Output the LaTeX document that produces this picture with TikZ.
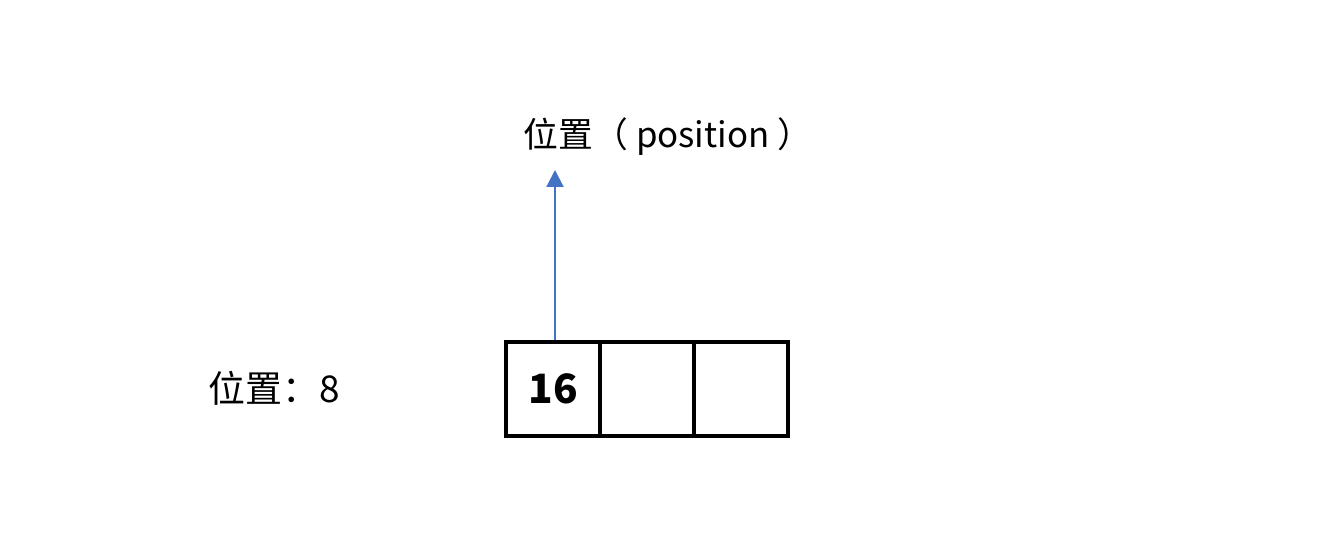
\documentclass[tikz,border=0pt]{standalone}
\usepackage{fontspec}
\setmainfont{Noto Sans CJK SC}
\usetikzlibrary{arrows.meta}
\definecolor{arrowblue}{HTML}{4472C4}

\begin{document}
\begin{tikzpicture}[
    scale=1,
    % Style for the array cells
    cell/.style={draw=black, line width=1.05pt, minimum size=0.94cm, inner sep=0pt, font=\fontsize{11.5}{13}\selectfont\bfseries},
    % Style for the plain labels
    caption/.style={inner sep=0pt, font=\fontsize{10.5}{12}\selectfont},
    % Style for the blue pointer
    pointer/.style={draw=arrowblue, line width=0.6pt, -{Triangle[length=0.17cm, width=0.17cm]}}
]

    % --- 1. Fix the frame ---
    \useasboundingbox (0,0) rectangle (13.24,5.54);

    % --- 2. Define Coordinates ---
    \coordinate (tip) at (5.55, 3.84);

    % --- 3. Draw Cells ---
    \node[cell] (c1) at (5.53, 1.65) {16};
    \node[cell] (c2) at (6.47, 1.65) {};
    \node[cell] (c3) at (7.41, 1.65) {};

    % --- 4. Draw Labels ---
    \node[caption, font=\fontsize{9.9}{12}\selectfont] (pos) at (6.68, 4.17) {位置（ position ）};
    \node[caption] (val) at (2.74, 1.66) {位置：8};

    % --- 5. Draw Arrow ---
    \draw[pointer] (c1.north -| tip) -- (tip);

\end{tikzpicture}
\end{document}
